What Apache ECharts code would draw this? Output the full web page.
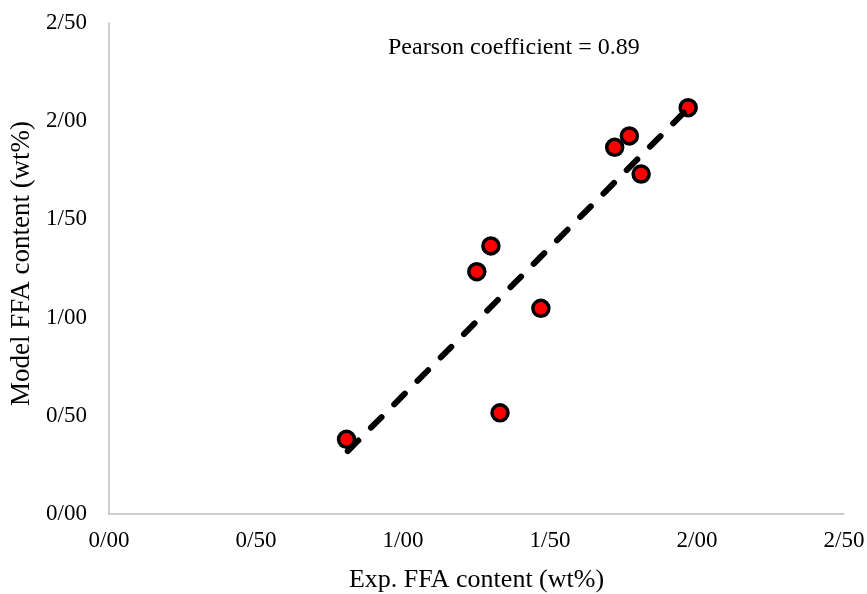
<!DOCTYPE html>
<html>
<head>
<meta charset="utf-8">
<script src="https://cdn.jsdelivr.net/npm/echarts@6/dist/echarts.min.js"></script>
<style>
  html, body { margin: 0; padding: 0; background: #fff; }
  #chart { width: 867px; height: 594px; }
</style>
</head>
<body>
<div id="chart"></div>
<script>
// measured points (Exp. vs Model FFA content, wt%)
const expFFA = [0.808, 1.330, 1.251, 1.299, 1.469, 1.720, 1.770, 1.810, 1.970];
const modelFFA = [0.380, 0.515, 1.234, 1.365, 1.047, 1.867, 1.925, 1.731, 2.069];
// linear trend line ends
const trendX = [0.812, 1.966];
const trendY = [0.320, 2.060];
// axis ticks
const xTicks = [0, 0.5, 1, 1.5, 2, 2.5];
const yTicks = [0, 0.5, 1, 1.5, 2, 2.5];
const pearsonText = "Pearson coefficient = 0.89";

const font = "'Liberation Serif', 'Times New Roman', serif";
const axisGray = "#bfbfbf";

// 1.5 -> "1/50"
function tickLabel(v) {
  return v.toFixed(2).replace(".", "/");
}

const chart = echarts.init(document.getElementById("chart"), null, { renderer: "canvas" });

const option = {
  animation: false,
  backgroundColor: "#ffffff",
  grid: { left: 109, right: 23, top: 23, bottom: 80, outerBoundsMode: "none", containLabel: false },
  xAxis: {
    type: "value",
    min: xTicks[0],
    max: xTicks[xTicks.length - 1],
    interval: xTicks[1] - xTicks[0],
    name: "Exp. FFA content (wt%)",
    nameLocation: "middle",
    nameGap: 53,
    nameTextStyle: { fontFamily: font, fontSize: 26, color: "#000" },
    axisLine: { show: true, lineStyle: { color: axisGray, width: 1.5 } },
    axisTick: { show: false },
    splitLine: { show: false },
    axisLabel: {
      margin: 15,
      fontFamily: font,
      fontSize: 23,
      color: "#000",
      formatter: tickLabel
    }
  },
  yAxis: {
    type: "value",
    min: yTicks[0],
    max: yTicks[yTicks.length - 1],
    interval: yTicks[1] - yTicks[0],
    name: "Model FFA content (wt%)",
    nameLocation: "middle",
    nameGap: 74,
    nameTextStyle: { fontFamily: font, fontSize: 27, color: "#000", padding: [0, 0, 0, 10] },
    axisLine: { show: true, lineStyle: { color: axisGray, width: 1.5 } },
    axisTick: { show: false },
    splitLine: { show: false },
    axisLabel: {
      margin: 22,
      fontFamily: font,
      fontSize: 23,
      color: "#000",
      formatter: tickLabel
    }
  },
  graphic: [
    {
      type: "text",
      left: 388,
      top: 36,
      style: {
        text: pearsonText,
        font: "24px " + font,
        fill: "#000"
      }
    }
  ],
  series: [
    {
      type: "scatter",
      data: expFFA.map((x, i) => [x, modelFFA[i]]),
      symbol: "circle",
      symbolSize: 16,
      itemStyle: { color: "#ff0000", borderColor: "#000000", borderWidth: 3.5, opacity: 1 },
      z: 2
    },
    {
      type: "line",
      data: trendX.map((x, i) => [x, trendY[i]]),
      showSymbol: false,
      symbol: "none",
      lineStyle: { color: "#000000", width: 6, type: [15, 18], cap: "round" },
      z: 3
    }
  ]
};

chart.setOption(option);
</script>
</body>
</html>
